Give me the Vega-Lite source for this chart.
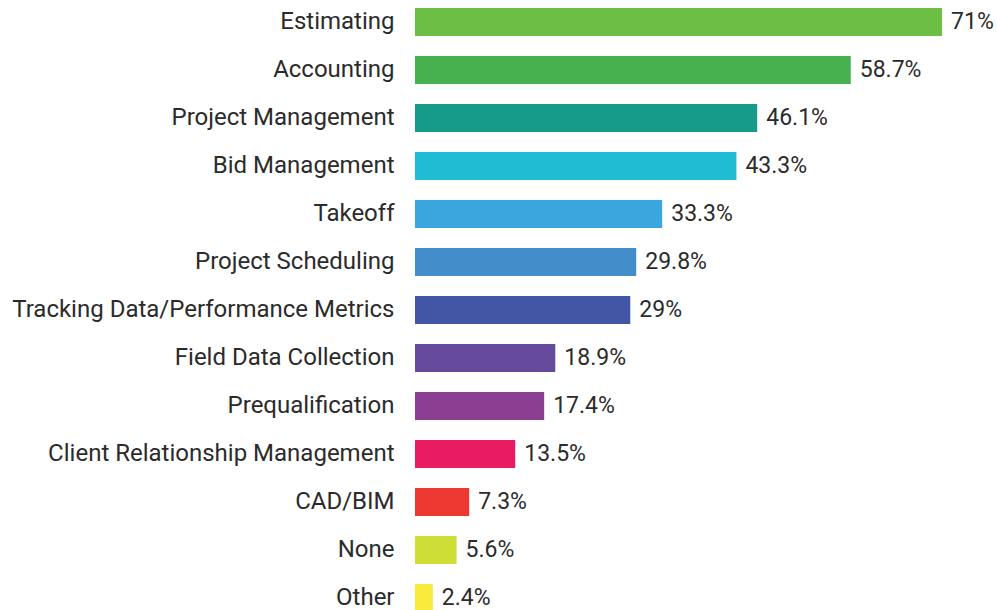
{
  "$schema": "https://vega.github.io/schema/vega-lite/v6.json",
  "autosize": "none",
  "padding": {"left": 415, "top": 0, "right": 0, "bottom": 0},
  "width": 582,
  "height": 620,
  "background": "white",
  "data": {"values": [
    {"category": "Estimating", "value": 0.71, "color": "#6DBE45"},
    {"category": "Accounting", "value": 0.587, "color": "#47B04F"},
    {"category": "Project Management", "value": 0.461, "color": "#169B89"},
    {"category": "Bid Management", "value": 0.433, "color": "#1FBCD3"},
    {"category": "Takeoff", "value": 0.333, "color": "#3AA6DD"},
    {"category": "Project Scheduling", "value": 0.298, "color": "#448DCB"},
    {"category": "Tracking Data/Performance Metrics", "value": 0.29, "color": "#4355A5"},
    {"category": "Field Data Collection", "value": 0.189, "color": "#654A9E"},
    {"category": "Prequalification", "value": 0.174, "color": "#8B3F92"},
    {"category": "Client Relationship Management", "value": 0.135, "color": "#E91B63"},
    {"category": "CAD/BIM", "value": 0.073, "color": "#EE3932"},
    {"category": "None", "value": 0.056, "color": "#CEDE37"},
    {"category": "Other", "value": 0.024, "color": "#F8EB3B"}
  ]},
  "encoding": {
    "y": {
      "field": "category", "type": "nominal", "sort": null,
      "scale": {"paddingInner": 0.4167, "paddingOuter": 0.1667},
      "axis": {"title": null, "ticks": false, "domain": false, "labelFontSize": 24, "labelFont": "Roboto", "labelColor": "#2b2b2b", "labelPadding": 21, "labelLimit": 0}
    },
    "x": {
      "field": "value", "type": "quantitative",
      "scale": {"domain": [0, 0.784], "nice": false},
      "axis": null
    }
  },
  "layer": [
    {"mark": {"type": "bar"}, "encoding": {"color": {"field": "color", "type": "nominal", "scale": null}}},
    {"mark": {"type": "text", "align": "left", "baseline": "middle", "dx": 9, "font": "Roboto", "fontSize": 23, "color": "#2b2b2b"},
     "encoding": {"text": {"field": "value", "type": "quantitative", "format": ".1~%"}}}
  ],
  "config": {"view": {"stroke": null}}
}
